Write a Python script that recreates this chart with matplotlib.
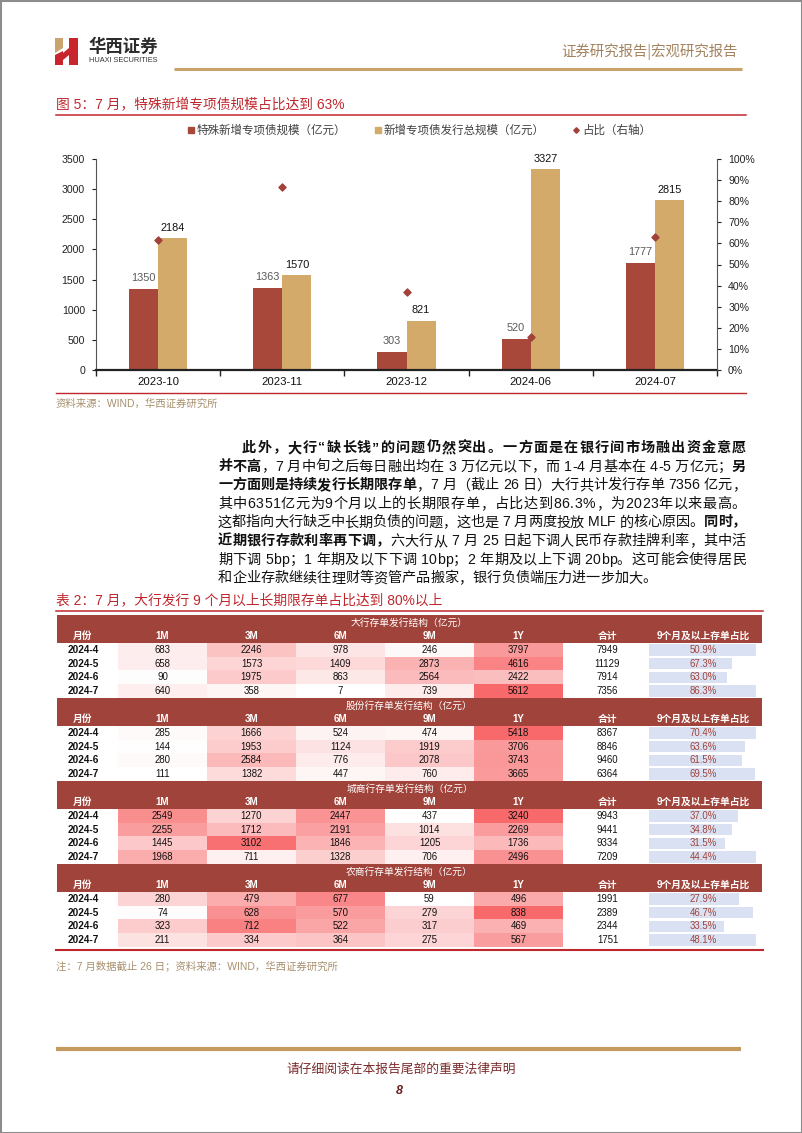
"""
Page 8 of the Huaxi macro report: figure 5 (special-purpose bond issuance)
plus the NCD issuance-structure table (table 2).
"""
import matplotlib

matplotlib.use("Agg")
import matplotlib.pyplot as plt
import numpy as np
from matplotlib import font_manager as fm
from matplotlib.colors import LinearSegmentedColormap
from matplotlib.font_manager import FontProperties
from matplotlib.lines import Line2D
from matplotlib.patches import Polygon, Rectangle
from matplotlib.ticker import FixedLocator, MultipleLocator, PercentFormatter

W, H = 802, 1133
FONTS = ["Liberation Sans", "Noto Sans CJK SC", "DejaVu Sans"]
CJK = ["Noto Sans CJK SC", "DejaVu Sans"]
plt.rcParams["font.family"] = FONTS

# ---- figure 5 data ----
months = ["2023-10", "2023-11", "2023-12", "2024-06", "2024-07"]
special = [1350, 1363, 303, 520, 1777]
total = [2184, 1570, 821, 3327, 2815]
share = [0.618, 0.868, 0.369, 0.156, 0.631]

# ---- table 2 data ----
section_titles = ["大行存单发行结构（亿元）", "股份行存单发行结构（亿元）",
                  "城商行存单发行结构（亿元）", "农商行存单发行结构（亿元）"]
row_months = ["2024-4", "2024-5", "2024-6", "2024-7"]
tenors = ["1M", "3M", "6M", "9M", "1Y"]

big = [[683, 2246, 978, 246, 3797], [658, 1573, 1409, 2873, 4616],
       [90, 1975, 863, 2564, 2422], [640, 358, 7, 739, 5612]]
big_sum = [7949, 11129, 7914, 7356]
big_ratio = [50.9, 67.3, 63.0, 86.3]

joint = [[285, 1666, 524, 474, 5418], [144, 1953, 1124, 1919, 3706],
         [280, 2584, 776, 2078, 3743], [111, 1382, 447, 760, 3665]]
joint_sum = [8367, 8846, 9460, 6364]
joint_ratio = [70.4, 63.6, 61.5, 69.5]

city = [[2549, 1270, 2447, 437, 3240], [2255, 1712, 2191, 1014, 2269],
        [1445, 3102, 1846, 1205, 1736], [1968, 711, 1328, 706, 2496]]
city_sum = [9943, 9441, 9334, 7209]
city_ratio = [37.0, 34.8, 31.5, 44.4]

rural = [[280, 479, 677, 59, 496], [74, 628, 570, 279, 838],
         [323, 712, 522, 317, 469], [211, 334, 364, 275, 567]]
rural_sum = [1991, 2389, 2344, 1751]
rural_ratio = [27.9, 46.7, 33.5, 48.1]

# data-bar lengths as drawn in the source (fraction of the cell)
big_bar = [1.0, 0.78, 0.73, 1.0]
joint_bar = [1.0, 0.90, 0.87, 0.99]
city_bar = [0.83, 0.78, 0.71, 1.0]
rural_bar = [0.84, 0.97, 0.70, 1.0]

RED = "#A8483A"
GOLD = "#D4AA6A"
DIAMOND = "#A0413A"
TITLE_RED = "#C0272D"
BAND = "#A0433A"
TAN = "#A8906E"

paragraph = [
    [("此外，大行“缺长钱”的问题仍然突出。一方面是在银行间市场融出资金意愿", True)],
    [("并不高", True), ("，7 月中旬之后每日融出均在 3 万亿元以下，而 1-4 月基本在 4-5 万亿元；", False),
     ("另", True)],
    [("一方面则是持续发行长期限存单", True), ("，7 月（截止 26 日）大行共计发行存单 7356 亿元，", False)],
    [("其中6351亿元为9个月以上的长期限存单，占比达到86.3%，为2023年以来最高。", False)],
    [("这都指向大行缺乏中长期负债的问题，这也是 7 月两度投放 MLF 的核心原因。", False), ("同时，", True)],
    [("近期银行存款利率再下调，", True), ("六大行从 7 月 25 日起下调人民币存款挂牌利率，其中活", False)],
    [("期下调 5bp；1 年期及以下下调 10bp；2 年期及以上下调 20bp。这可能会使得居民", False)],
    [("和企业存款继续往理财等资管产品搬家，银行负债端压力进一步加大。", False)],
]


def glyph_advance(ch, weight, size):
    # advance in pixels, walking the fallback list like matplotlib does
    for fam in FONTS:
        font = fm.get_font(fm.findfont(FontProperties(family=fam, weight=weight)))
        if font.get_char_index(ord(ch)):
            font.set_size(size, 100)
            return font.load_char(ord(ch)).linearHoriAdvance / 65536
    return size * 100 / 72 * 0.5


def draw_justified(ax, segs, x0, x1, y, size, justify=True):
    chars = []
    for text, bold in segs:
        weight = "bold" if bold else "normal"
        for ch in text:
            chars.append((ch, weight, glyph_advance(ch, weight, size)))
    natural = sum(c[2] for c in chars)
    gap = (x1 - x0 - natural) / (len(chars) - 1) if justify else 0.0
    x = x0
    for ch, weight, adv in chars:
        if ch != " ":
            # ha="left" anchors the pen origin, so the glyph's own bearing is kept
            ax.text(x, y, ch, fontsize=size, fontweight=weight, color="#111111",
                    ha="left", va="baseline")
        x += adv + gap


fig = plt.figure(figsize=(W / 100, H / 100), dpi=100)

# page-level layer in pixel coordinates
bg = fig.add_axes([0, 0, 1, 1])
bg.axis("off")

bg.add_patch(Rectangle((0.5, 0.5), W - 1, H - 1, fill=False, ec="#8c8c8c", lw=1.5, clip_on=False))

# logo
bg.add_patch(Polygon([(55, 38), (63, 38), (63, 48), (55, 53)], color="#C9A46C", lw=0))
bg.add_patch(Polygon([(55, 55), (63, 51), (63, 65), (55, 65)], color="#C8252C", lw=0))
bg.add_patch(Polygon([(69, 38), (78, 38), (78, 65), (69, 65)], color="#C8252C", lw=0))
bg.add_patch(Polygon([(63, 53), (69, 48), (69, 55), (63, 60)], color="#C8252C", lw=0))
bg.text(88, 47, "华西证券", fontsize=12.5, fontweight="bold", color="#2b2b2b", va="center", family=CJK)
bg.text(89, 60.5, "HUAXI SECURITIES", fontsize=5.3, color="#333333", va="center")
bg.text(738, 52, "证券研究报告|宏观研究报告", fontsize=10.4, color="#A3835F", ha="right", va="center",
        family=CJK)
bg.plot([174, 742], [69, 69], color="#C8A26A", lw=2.2, solid_capstyle="butt")

# figure 5 title
bg.text(56, 104, "图 5：7 月，特殊新增专项债规模占比达到 63%", fontsize=9.9, color=TITLE_RED, va="center")
bg.plot([56, 746], [115, 115], color=TITLE_RED, lw=1.1)

# ---- chart ----
ax = fig.add_axes([96 / W, 1 - 370 / H, (717 - 96) / W, (370 - 159) / H])
x = np.arange(len(months))
bw = 0.235
b1 = ax.bar(x - bw / 2, special, bw, color=RED, zorder=2)
b2 = ax.bar(x + bw / 2, total, bw, color=GOLD, zorder=2)
ax.bar_label(b1, padding=4, fontsize=7.8, color="#595959")
ax.bar_label(b2, padding=4, fontsize=7.8, color="#111111")
ax.set_xlim(-0.5, len(months) - 0.5)
ax.set_ylim(0, 3500)
ax.yaxis.set_major_locator(MultipleLocator(500))
ax.set_xticks(x, months)
ax.xaxis.set_minor_locator(FixedLocator(np.arange(-0.5, len(months), 1.0)))
ax.tick_params(axis="x", which="major", length=0, pad=5, labelsize=8.2, colors="#111111")
ax.tick_params(axis="x", which="minor", length=4, width=1, color="#222222")
ax.tick_params(axis="y", length=3, labelsize=7.6, pad=5, colors="#222222")
ax.spines["top"].set_visible(False)
ax.spines["right"].set_visible(False)
ax.spines["left"].set_color("#555555")
ax.spines["left"].set_linewidth(0.8)
ax.spines["bottom"].set_linewidth(1.6)
ax.spines["bottom"].set_color("#222222")
ax.patch.set_alpha(0)

ax2 = ax.twinx()
ax2.scatter(x, share, marker="D", s=13, color=DIAMOND, zorder=3)
ax2.set_ylim(0, 1)
ax2.yaxis.set_major_locator(MultipleLocator(0.1))
ax2.yaxis.set_major_formatter(PercentFormatter(1.0, decimals=0))
ax2.tick_params(axis="y", length=3, labelsize=7.6, pad=5, colors="#222222")
for side in ["top", "left", "bottom"]:
    ax2.spines[side].set_visible(False)
ax2.spines["right"].set_color("#555555")
ax2.spines["right"].set_linewidth(0.8)

handles = [Line2D([], [], marker="s", ls="", ms=4.5, color=RED),
           Line2D([], [], marker="s", ls="", ms=4.5, color=GOLD),
           Line2D([], [], marker="D", ls="", ms=2.8, color=DIAMOND)]
labels = ["特殊新增专项债规模（亿元）", "新增专项债发行总规模（亿元）", "占比（右轴）"]
leg = fig.legend(handles, labels, loc="center", bbox_to_anchor=(419 / W, 1 - 131 / H), ncol=3,
                 frameon=False, fontsize=8.3, handlelength=0.7, handletextpad=0.15, columnspacing=2.4)
for t in leg.get_texts():
    t.set_color("#404040")

bg.plot([56, 746], [393, 393], color=TITLE_RED, lw=1)
bg.text(56, 404, "资料来源：WIND，华西证券研究所", fontsize=7.5, color=TAN, va="center")

# ---- body text ----
for i, segs in enumerate(paragraph):
    x0 = 242 if i == 0 else 218
    draw_justified(bg, segs, x0, 746, 452 + 18.6 * i, 10.2, justify=i < len(paragraph) - 1)

# ---- table 2 ----
bg.text(56, 600, "表 2：7 月，大行发行 9 个月以上长期限存单占比达到 80%以上", fontsize=9.9,
        color=TITLE_RED, va="center")
bg.plot([56, 763], [611, 611], color=TITLE_RED, lw=1.1)

cmap = LinearSegmentedColormap.from_list("heat", ["#FFFFFF", "#F8696B"])
edges = [57, 118, 207, 296, 385, 474, 563, 652, 762]
centers = [(a + b) / 2 for a, b in zip(edges[:-1], edges[1:])]
centers[0] = 83
centers[-1] = 703
headers = ["月份"] + tenors + ["合计", "9个月及以上存单占比"]
band_h, row_h, sec_h = 28, 13.7, 83
bar_left, bar_full = 649, 107

tables = [(big, big_sum, big_ratio, big_bar), (joint, joint_sum, joint_ratio, joint_bar),
          (city, city_sum, city_ratio, city_bar), (rural, rural_sum, rural_ratio, rural_bar)]
for s, (vals, sums, ratios, bars) in enumerate(tables):
    top = 615 + sec_h * s
    bg.add_patch(Rectangle((edges[0], top), edges[-1] - edges[0], band_h, color=BAND, lw=0))
    bg.text((edges[0] + edges[-1]) / 2, top + 7.5, section_titles[s], fontsize=7, color="white",
            ha="center", va="center")
    for cx, h in zip(centers, headers):
        bg.text(cx, top + 21, h, fontsize=7, fontweight="bold", color="white", ha="center", va="center")

    grid = np.array(vals, dtype=float)
    rows_top = top + band_h
    rows_bot = rows_top + row_h * len(row_months)
    bg.imshow(grid, cmap=cmap, vmin=grid.min(), vmax=grid.max(), aspect="auto",
              interpolation="nearest", extent=(edges[1], edges[6], rows_bot, rows_top))
    ys = rows_top + row_h * (np.arange(len(row_months)) + 0.5)
    bg.barh(ys, np.array(bars) * bar_full, left=bar_left, height=11.5, color="#DAE1F2", lw=0)

    for r, y in enumerate(ys):
        bg.text(centers[0], y, row_months[r], fontsize=7.2, fontweight="bold", color="#111111",
                ha="center", va="center")
        for c, v in enumerate(vals[r]):
            bg.text(centers[c + 1], y, f"{v}", fontsize=6.9, color="#111111", ha="center", va="center")
        bg.text(centers[6], y, f"{sums[r]}", fontsize=6.9, color="#111111", ha="center", va="center")
        bg.text(centers[7], y, f"{ratios[r]:.1f}%", fontsize=6.9, color=BAND, ha="center", va="center")

bg.plot([56, 763], [950, 950], color=TITLE_RED, lw=1.5)
bg.text(56, 966, "注：7 月数据截止 26 日；资料来源：WIND，华西证券研究所", fontsize=7.5, color=TAN,
        va="center")

# ---- footer ----
bg.plot([56, 741], [1049, 1049], color="#C49A5E", lw=3, solid_capstyle="butt")
bg.text(401, 1069, "请仔细阅读在本报告尾部的重要法律声明", fontsize=9.2, color="#7B2A2A", ha="center",
        va="center", family=CJK)
bg.text(399, 1091, "8", fontsize=9, fontweight="bold", style="italic", color="#6B1F1F", ha="center",
        va="center")

bg.set_xlim(0, W)
bg.set_ylim(H, 0)

fig.savefig("out.png", dpi=100)
